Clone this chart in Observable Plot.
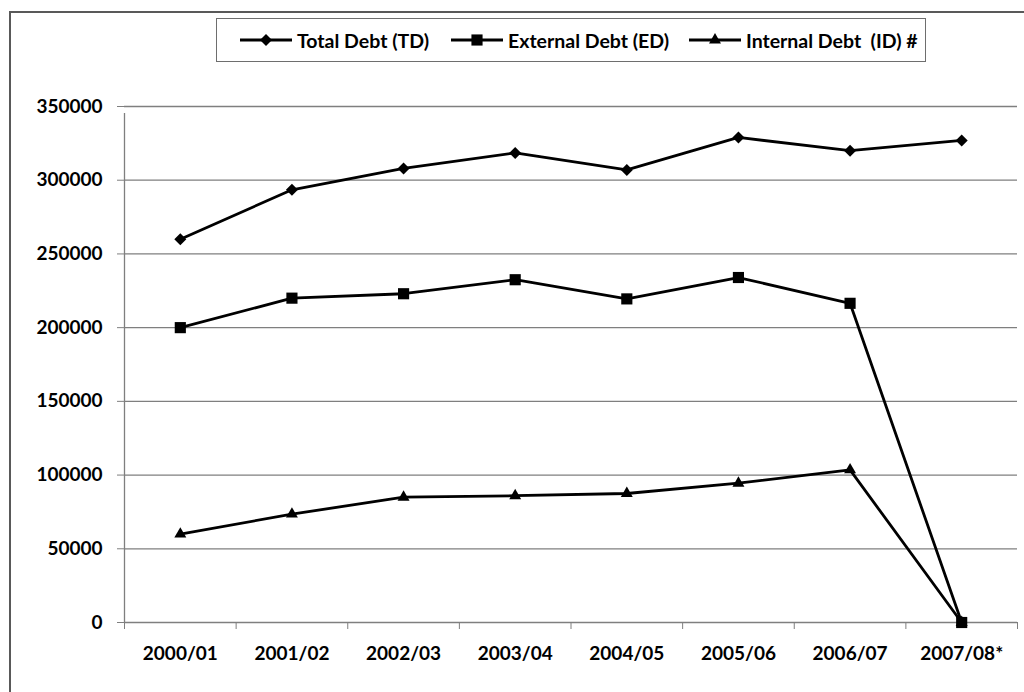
<!DOCTYPE html>
<html>
<head>
<meta charset="utf-8">
<script src="https://cdn.jsdelivr.net/npm/d3@7"></script>
<script src="https://cdn.jsdelivr.net/npm/@observablehq/plot@0.6"></script>
<style>
  html, body { margin: 0; padding: 0; background: #fff; width: 1024px; height: 692px; overflow: hidden; }
  body { position: relative; font-family: Lato, "Open Sans", sans-serif; font-weight: 700; color: #000; }
  #frame { position: absolute; left: 9px; top: 11px; width: 1100px; height: 720px;
           border-left: 2px solid #595959; border-top: 2px solid #595959; }
  #legend { position: absolute; left: 216px; top: 18px; width: 708px; height: 42px;
            border: 1.5px solid #6e6e6e; background: #fff; }
  .item { position: absolute; top: 0; height: 42px; display: flex; align-items: center; font-size: 19.5px; white-space: pre; }
  .item svg { margin-right: 5px; }
  #chart { position: absolute; left: 0; top: 70px; }
</style>
</head>
<body>
<div id="frame"></div>
<div id="legend"></div>
<div id="chart"></div>
<script>
// Fiscal years on the category axis
const categories = ["2000/01", "2001/02", "2002/03", "2003/04", "2004/05", "2005/06", "2006/07", "2007/08*"];

// Debt stock per fiscal year
const totalDebt    = [260000, 293500, 308000, 318500, 307000, 329000, 320000, 327000];
const externalDebt = [200000, 220000, 223000, 232500, 219500, 234000, 216500, 0];
const internalDebt = [ 60000,  73500,  85000,  86000,  87500,  94500, 103500, 0];

// Value-axis ticks
const yTicks = [0, 50000, 100000, 150000, 200000, 250000, 300000, 350000];

const seriesNames = ["Total Debt (TD)", "External Debt (ED)", "Internal Debt  (ID) #"];
const seriesValues = [totalDebt, externalDebt, internalDebt];
const seriesSymbols = ["diamond2", "square2", "triangle2"];
const seriesRadius = [5.4, 7.1, 5.7];

const rows = seriesNames.flatMap((name, s) =>
  categories.map((c, i) => ({ series: name, i, value: seriesValues[s][i] }))
);

// Category boundaries get the small tick marks under the axis
const boundaries = d3.range(categories.length + 1).map(k => k - 0.5);
const yMax = yTicks[yTicks.length - 1];

const chart = Plot.plot({
  width: 1024,
  height: 622,
  marginTop: 36,
  marginBottom: 70,
  marginLeft: 124,
  marginRight: 7,
  x: { type: "linear", domain: [-0.5, categories.length - 0.5] },
  y: { domain: [0, yMax] },
  style: { fontFamily: "Lato, 'Open Sans', sans-serif", fontSize: "19px", fontWeight: 700, color: "#000", background: "transparent" },
  marks: [
    Plot.gridY(yTicks, { stroke: "#7f7f7f", strokeOpacity: 1, strokeWidth: 1.3 }),
    Plot.ruleX([-0.5], { y1: 0, y2: yMax, stroke: "#7f7f7f", strokeWidth: 1.3, insetBottom: -7 }),
    Plot.axisY({ ticks: yTicks, tickSize: 7, tickPadding: 15, tickFormat: d => String(d), label: null, stroke: "#7f7f7f" }),
    Plot.axisX({ ticks: boundaries, tickSize: 7, tickFormat: () => "", label: null, stroke: "#7f7f7f" }),
    Plot.axisX({ ticks: d3.range(categories.length), tickSize: 0, tickPadding: 24, tickFormat: i => categories[i], label: null }),
    Plot.lineY(rows, { x: "i", y: "value", z: "series", stroke: "#000", strokeWidth: 2.8 }),
    ...seriesNames.map((name, s) =>
      Plot.dot(rows.filter(d => d.series === name), {
        x: "i", y: "value", symbol: () => seriesSymbols[s], r: seriesRadius[s], fill: "#000", stroke: "none"
      })
    )
  ]
});
document.getElementById("chart").append(chart);

// Legend swatches: line with the series marker
const legend = d3.select("#legend");
const itemLeft = [23, 234, 472];
seriesNames.forEach((name, s) => {
  const item = legend.append("div").attr("class", "item").style("left", itemLeft[s] + "px");
  const sw = item.append("svg").attr("width", 52).attr("height", 16);
  sw.append("line").attr("x1", 0).attr("x2", 52).attr("y1", 8).attr("y2", 8)
    .attr("stroke", "#000").attr("stroke-width", 2.8);
  const size = Math.PI * seriesRadius[s] * seriesRadius[s];
  const sym = { diamond2: d3.symbolDiamond2, square2: d3.symbolSquare2, triangle2: d3.symbolTriangle2 }[seriesSymbols[s]];
  sw.append("path").attr("transform", "translate(26,8)").attr("d", d3.symbol(sym, size)()).attr("fill", "#000");
  item.append("span").text(name);
});
</script>
</body>
</html>
